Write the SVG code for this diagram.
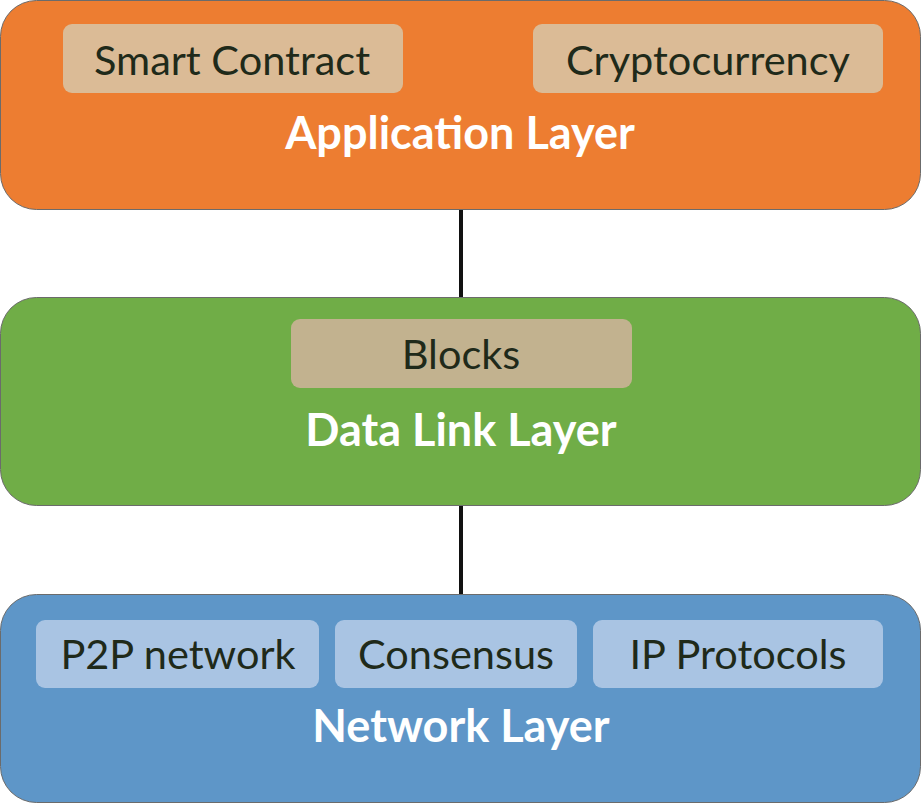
<svg xmlns="http://www.w3.org/2000/svg" width="922" height="804" viewBox="0 0 922 804">
<style>
.layer{stroke:#6b6b6b;stroke-width:1}
.sub{font-family:Lato,"Open Sans",sans-serif;font-size:41.5px;fill:#1f2a1a;text-anchor:middle}
.title{font-family:Lato,"Open Sans",sans-serif;font-size:45px;font-weight:bold;fill:#ffffff;text-anchor:middle}
.conn{stroke:#111;stroke-width:4}
</style>
<rect width="922" height="804" fill="#ffffff"/>
<g id="connectors">
<line class="conn" x1="461" y1="210" x2="461" y2="298"/>
<line class="conn" x1="461" y1="505" x2="461" y2="595"/>
</g>
<g id="application-layer">
<rect class="layer" x="0.5" y="0.5" width="920" height="209" rx="36" fill="#ED7D31"/>
<g id="smart-contract">
<rect x="63" y="24" width="340" height="69" rx="9" fill="#DBBB96"/>
<text class="sub" x="232" y="75">Smart Contract</text>
</g>
<g id="cryptocurrency">
<rect x="533" y="24" width="350" height="69" rx="9" fill="#DBBB96"/>
<text class="sub" x="708" y="75">Cryptocurrency</text>
</g>
<text class="title" x="460" y="149">Application Layer</text>
</g>
<g id="data-link-layer">
<rect class="layer" x="0.5" y="297.5" width="920" height="208" rx="36" fill="#70AD47"/>
<g id="blocks">
<rect x="291" y="319" width="341" height="69" rx="9" fill="#C2B28F"/>
<text class="sub" x="461" y="369">Blocks</text>
</g>
<text class="title" x="461" y="446">Data Link Layer</text>
</g>
<g id="network-layer">
<rect class="layer" x="0.5" y="594.5" width="920" height="208" rx="36" fill="#5E96C8"/>
<g id="p2p-network">
<rect x="36" y="620" width="283" height="68" rx="9" fill="#A9C4E3"/>
<text class="sub" x="178" y="669">P2P network</text>
</g>
<g id="consensus">
<rect x="335" y="620" width="242" height="68" rx="9" fill="#A9C4E3"/>
<text class="sub" x="456" y="669">Consensus</text>
</g>
<g id="ip-protocols">
<rect x="593" y="620" width="290" height="68" rx="9" fill="#A9C4E3"/>
<text class="sub" x="738" y="669">IP Protocols</text>
</g>
<text class="title" x="461" y="742">Network Layer</text>
</g>
</svg>
